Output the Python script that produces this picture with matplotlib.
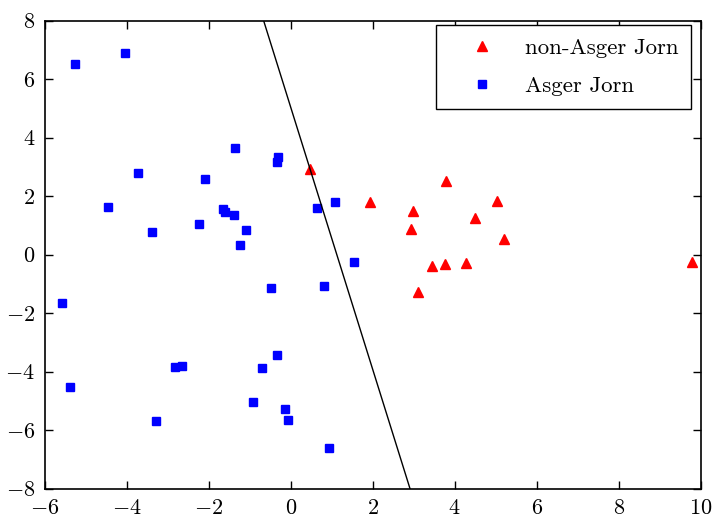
import matplotlib
matplotlib.use("Agg")
import matplotlib.pyplot as plt

# points
non_jorn_x = [0.48, 1.93, 2.99, 2.93, 3.79, 4.49, 5.04, 5.21, 3.10, 3.45, 3.76, 4.27, 9.79]
non_jorn_y = [2.94, 1.79, 1.48, 0.88, 2.52, 1.24, 1.83, 0.54, -1.26, -0.38, -0.32, -0.29, -0.24]

jorn_x = [-5.25, -4.05, -3.72, -4.46, -3.38, -2.24, -2.09, -1.37, -1.65, -1.60, -1.39,
          -1.08, -1.24, -0.34, -0.30, 0.63, 1.07, -5.59, -5.38, -3.29, -2.82, -2.65,
          -0.47, 0.80, 1.54, -0.33, -0.70, -0.91, -0.15, -0.07, 0.93]
jorn_y = [6.52, 6.91, 2.80, 1.64, 0.78, 1.05, 2.58, 3.66, 1.57, 1.46, 1.37,
          0.84, 0.32, 3.18, 3.33, 1.60, 1.80, -1.64, -4.51, -5.70, -3.83, -3.81,
          -1.13, -1.08, -0.24, -3.42, -3.87, -5.04, -5.28, -5.64, -6.61]

# separating line
line_x = [-0.66, 2.91]
line_y = [8, -8]

plt.rcParams["font.family"] = "serif"
plt.rcParams["font.serif"] = ["cmr10", "DejaVu Serif"]
plt.rcParams["mathtext.fontset"] = "cm"
plt.rcParams["axes.formatter.use_mathtext"] = True
plt.rcParams["xtick.direction"] = "in"
plt.rcParams["ytick.direction"] = "in"
plt.rcParams["xtick.top"] = True
plt.rcParams["ytick.right"] = True

fig = plt.figure(figsize=(7.14, 5.19), dpi=100)
ax = fig.add_axes([0.0626, 0.0584, 0.9188, 0.9017])

ax.plot(non_jorn_x, non_jorn_y, "^", color="red", markeredgecolor="red", ms=7.8, label="non-Asger Jorn")
ax.plot(jorn_x, jorn_y, "s", color="blue", markeredgecolor="blue", ms=6, label="Asger Jorn")
ax.plot(line_x, line_y, color="black", lw=1)

ax.set_xlim(-6, 10)
ax.set_ylim(-8, 8)
ax.set_xticks(range(-6, 11, 2))
ax.set_yticks(range(-8, 9, 2))
ax.tick_params(labelsize=16, length=6, width=1, pad=7)
for s in ax.spines.values():
    s.set_linewidth(1.2)

leg = ax.legend(loc="upper right", bbox_to_anchor=(0.9848, 0.9908), numpoints=1,
                fontsize=16.5, fancybox=False, edgecolor="black", framealpha=1,
                borderaxespad=0, borderpad=0.55, labelspacing=0.8,
                handlelength=2.96, handletextpad=0.37)
leg.get_frame().set_linewidth(1)

fig.savefig("out.png", dpi=100)
